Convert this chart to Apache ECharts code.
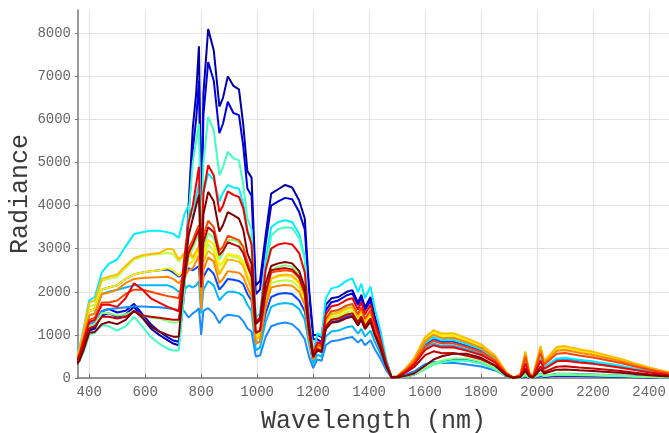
<!DOCTYPE html>
<html>
<head>
<meta charset="utf-8">
<title>Radiance spectra</title>
<script src="https://cdn.jsdelivr.net/npm/echarts@6/dist/echarts.min.js"></script>
<style>
  html, body { margin: 0; padding: 0; background: #fff; }
  #chart { width: 669px; height: 433px; }
</style>
</head>
<body>
<div id="chart"></div>
<script>
// wavelength samples (nm)
var wavelengths = [350,365,380,400,420,445,470,500,530,560,590,620,650,680,700,720,
  740,755,770,782,792,800,808,825,845,865,878,895,915,935,950,965,980,995,1010,1030,1050,1075,1100,1125,1150,1170,1185,1200,
  1215,1230,1245,1265,1290,1320,1340,1360,1372,1385,1405,1420,1440,1460,1480,
  1500,1530,1560,1600,1630,1660,1700,1750,1800,1850,1890,1915,
  1940,1958,1972,1985,2000,2012,2025,2045,2070,2100,2150,2200,2250,2300,2350,2400,2440,2470];

// radiance per spectrum
var navy = [300,420,650,1100,1150,1450,1500,1420,1480,1650,1400,1150,1000,880,800,760,
  2000,4000,5800,6600,7700,3800,6600,8100,7600,6300,6500,7000,6780,6700,5900,4800,4650,2150,2250,3300,4280,4380,4480,4420,4120,3700,2100,1000,
  1000,950,1700,1850,1880,2000,2040,1750,1930,1640,1880,1430,980,400,20,
  10,40,80,220,330,390,430,430,360,220,40,5,
  5,40,10,2,30,50,30,40,50,50,45,40,35,28,20,15,10,8];
var blue = [320,450,700,1150,1200,1550,1600,1520,1560,1720,1480,1250,1080,950,870,840,
  2100,3800,5300,6000,6900,3500,6100,7330,6900,5680,5900,6410,6150,6100,5400,4400,4230,1950,2050,3100,4000,4100,4180,4150,3850,3450,2000,900,
  900,830,1570,1760,1800,1920,1960,1690,1860,1570,1800,1370,940,390,20,
  10,38,80,215,325,380,420,420,350,215,38,4,
  6,48,12,2,35,60,35,48,60,60,55,50,42,35,26,19,13,10];
var royal = [380,600,1000,1550,1600,2050,2100,2150,2300,2400,2450,2480,2500,2520,2450,2350,
  2450,2550,2500,2550,2600,1700,2350,2550,2420,2050,2150,2300,2280,2250,2180,1950,1800,800,850,1500,1880,1950,1970,1950,1800,1550,950,400,
  650,610,1160,1300,1330,1420,1450,1250,1380,1160,1330,1020,700,290,15,
  32,180,365,770,900,835,845,745,630,420,105,8,
  50,375,75,18,260,450,240,325,435,450,405,370,320,270,205,150,110,80];
var dodger = [350,500,800,1250,1300,1550,1600,1620,1640,1660,1660,1650,1640,1620,1600,1580,
  1550,1400,1500,1550,1620,1000,1560,1620,1500,1270,1400,1470,1450,1430,1320,1150,1080,500,520,950,1200,1260,1290,1250,1100,900,500,230,
  430,400,760,855,875,930,950,820,900,760,875,665,455,190,10,
  14,75,150,320,380,350,355,315,265,175,45,3,
  11,83,17,4,58,100,53,72,97,100,90,82,71,60,46,33,24,18];
var skyblue = [370,580,950,1450,1500,1950,2000,2050,2100,2150,2150,2150,2150,2150,2100,2000,
  2050,2150,2100,2150,2250,1500,2050,2250,2150,1800,1900,2000,2000,1970,1900,1700,1550,650,700,1300,1650,1720,1740,1720,1600,1350,800,330,
  540,500,960,1080,1100,1180,1200,1030,1140,960,1100,840,575,240,12,
  29,160,325,685,800,740,750,660,560,375,95,7,
  46,350,71,17,245,420,225,300,405,420,380,345,300,250,195,140,100,75];
var cyan = [420,700,1150,1800,1880,2450,2650,2750,3050,3340,3380,3420,3420,3380,3350,3250,
  3800,4000,3700,4200,4500,3000,4300,4750,4600,4100,4300,4480,4420,4400,4050,3450,3150,1400,1500,2700,3500,3620,3660,3620,3350,2800,1400,600,
  1040,970,1850,2080,2120,2260,2310,1990,2190,1850,2120,1620,1110,460,25,
  34,190,385,815,950,880,890,790,670,445,110,9,
  52,390,80,19,273,470,250,338,455,470,423,385,334,282,216,155,113,85];
var aqua = [300,400,600,1000,1050,1230,1200,1100,1200,1420,1200,950,800,680,640,640,
  2000,3800,5000,5500,5900,3000,5000,6060,5750,4700,4900,5250,5100,5050,4500,3700,3450,1300,1400,2500,3300,3450,3500,3480,3250,2750,1400,550,
  765,715,1360,1530,1560,1670,1700,1460,1615,1360,1560,1190,815,340,17,
  8,36,76,205,310,360,400,400,335,205,36,4,
  7,56,14,3,42,70,42,56,70,70,63,56,49,39,28,21,14,11];
var lightgreen = [330,480,750,1200,1250,1500,1500,1450,1480,1550,1450,1400,1380,1320,1280,1300,
  2200,2800,3000,3200,3350,2000,3000,3360,3250,2750,2900,3200,3200,3150,2950,2600,2350,1000,1050,1900,2500,2580,2620,2580,2400,2050,1100,480,
  700,650,1240,1400,1430,1520,1550,1330,1470,1240,1430,1085,745,310,15,
  9,40,85,230,345,405,450,450,380,230,40,4,
  9,72,18,4,54,90,54,72,90,90,81,72,63,50,36,27,18,14];
var yellowgreen = [380,620,1050,1650,1700,2250,2300,2350,2550,2750,2820,2860,2880,2900,2880,2700,
  2850,2900,2750,2900,3050,1900,2800,3100,2950,2450,2600,2850,2820,2780,2650,2350,2100,950,1000,1750,2200,2250,2270,2250,2100,1800,1000,430,
  700,650,1240,1400,1430,1520,1550,1330,1470,1240,1430,1085,745,310,15,
  39,215,440,925,1080,1000,1010,895,760,505,125,10,
  80,600,120,30,420,720,380,520,700,720,650,590,510,430,330,240,170,130];
var yellow = [370,600,1000,1550,1600,2050,2100,2150,2300,2400,2450,2480,2500,2550,2500,2380,
  2500,2650,2700,2850,3100,1900,2900,3200,3100,2600,2700,2880,2850,2830,2700,2400,2200,950,1000,1800,2300,2350,2380,2350,2200,1850,1050,450,
  730,680,1300,1460,1490,1590,1620,1390,1540,1300,1490,1130,780,320,16,
  38,208,425,900,1050,975,985,870,740,490,123,9,
  77,580,119,28,406,700,371,504,680,700,630,574,497,420,322,231,168,126];
var gold = [400,650,1100,1750,1800,2300,2350,2400,2600,2780,2850,2880,2900,3000,2980,2750,
  2900,2950,2800,2950,3050,1900,2700,2950,2850,2400,2550,2750,2730,2700,2600,2300,2050,900,950,1800,2300,2380,2400,2380,2220,1900,1050,450,
  740,690,1320,1485,1520,1620,1650,1420,1570,1320,1520,1155,790,330,17,
  40,220,450,950,1110,1030,1040,920,780,520,130,10,
  81,615,126,30,430,740,392,533,718,740,666,607,525,444,340,244,178,133];
var orange = [370,580,950,1450,1500,1950,1980,2050,2200,2300,2320,2330,2340,2350,2300,2200,
  2350,2500,2550,2700,2850,1600,2500,2800,2700,2200,2300,2480,2460,2440,2350,2100,1900,800,850,1650,2100,2140,2160,2140,2000,1700,950,420,
  675,630,1200,1350,1380,1470,1500,1290,1425,1200,1380,1050,720,300,15,
  36,198,405,855,1000,925,935,830,700,470,117,9,
  72,540,110,26,377,650,345,468,630,650,585,533,462,390,300,215,156,117];
var orangered = [350,550,900,1350,1400,1750,1750,1800,1950,2050,2050,2000,1950,1900,1880,1850,
  2500,3000,3200,3400,3550,2300,3300,3650,3500,2950,3050,3300,3250,3200,3050,2700,2450,1050,1100,2000,2450,2480,2500,2480,2320,1950,1100,480,
  775,720,1375,1550,1580,1685,1720,1480,1635,1375,1580,1205,825,345,17,
  31,170,350,735,860,800,805,715,605,405,100,8,
  64,480,100,23,336,580,307,418,563,580,522,476,412,348,267,191,139,104];
var red = [330,520,850,1300,1350,1700,1700,1650,1850,2200,2050,1850,1750,1650,1600,1550,
  2800,3600,4000,4500,4900,2600,4300,4940,4700,3850,4000,4330,4250,4200,3950,3400,3100,1300,1400,2500,3000,3100,3130,3100,2900,2450,1300,550,
  830,780,1480,1665,1700,1815,1850,1590,1760,1480,1700,1295,890,370,18,
  27,150,310,650,760,705,712,630,535,355,90,7,
  44,332,68,16,232,400,212,288,388,400,360,328,284,240,184,132,96,72];
var darkred = [320,480,780,1150,1200,1420,1420,1380,1420,1550,1450,1420,1400,1370,1350,1350,
  2300,2900,3100,3300,3450,2100,3150,3500,3380,2850,2950,3150,3100,3050,2900,2600,2350,1050,1100,1950,2500,2530,2550,2520,2350,1980,1100,480,
  675,630,1200,1350,1380,1470,1500,1290,1425,1200,1380,1050,720,300,15,
  22,123,250,530,620,575,580,515,435,290,73,6,
  30,224,46,11,157,270,143,194,262,270,243,221,192,162,124,89,65,49];
var maroon = [280,400,650,1050,1070,1250,1300,1250,1350,1560,1400,1200,1080,1000,960,960,
  2400,3300,3700,4000,4250,2400,3800,4320,4100,3400,3550,3850,3780,3700,3450,2900,2650,1250,1350,2200,2600,2660,2690,2660,2480,2100,1150,500,
  640,600,1135,1280,1305,1390,1420,1220,1350,1135,1305,995,680,285,14,
  11,50,105,285,430,505,560,560,470,285,50,6,
  22,166,34,8,116,200,106,144,194,200,180,164,142,120,92,66,48,36];

var spectra = [navy, blue, royal, dodger, skyblue, cyan, aqua, lightgreen,
  yellowgreen, yellow, gold, orange, orangered, red, darkred, maroon];
var colors = ['#0000a8','#0000e6','#0048ff','#1a8cff','#00b8ff','#00eeff','#40ffc0','#80ff80',
  '#c0ff40','#ffee00','#ffbb00','#ff8800','#ff4400','#f00000','#c00000','#800000'];

var chart = echarts.init(document.getElementById('chart'));
var mono = 'Liberation Mono';

var series = spectra.map(function (vals, i) {
  return {
    type: 'line',
    data: wavelengths.map(function (w, j) { return [w, vals[j]]; }),
    showSymbol: false,
    symbol: 'none',
    clip: true,
    lineStyle: { color: colors[i], width: 2 },
    itemStyle: { color: colors[i] }
  };
});

function plain(v) { return String(v); }

var option = {
  backgroundColor: '#fff',
  animation: false,
  grid: { left: 78, right: 0, top: 10, bottom: 55, containLabel: false, outerBoundsMode: 'none' },
  xAxis: {
    type: 'value',
    min: 360,
    max: 2471,
    minInterval: 200,
    maxInterval: 200,
    splitNumber: 10,
    name: 'Wavelength (nm)',
    nameLocation: 'middle',
    nameGap: 31,
    nameTextStyle: { fontFamily: mono, fontSize: 25, color: '#3a3a3a' },
    axisLine: { show: true, lineStyle: { color: '#777', width: 1.5 } },
    axisTick: { show: true, inside: true, length: 4, lineStyle: { color: '#777' } },
    axisLabel: { fontFamily: mono, fontSize: 14, color: '#666', margin: 7,
      showMinLabel: false, showMaxLabel: false, formatter: plain },
    splitLine: { show: true, showMinLine: false, showMaxLine: false,
      lineStyle: { color: '#e3e3e3', width: 1 } }
  },
  yAxis: {
    type: 'value',
    min: 0,
    max: 8540,
    interval: 1000,
    name: 'Radiance',
    nameLocation: 'middle',
    nameGap: 45,
    nameMoveOverlap: false,
    nameTextStyle: { fontFamily: mono, fontSize: 25, color: '#3a3a3a' },
    axisLine: { show: true, lineStyle: { color: '#777', width: 1.5 } },
    axisTick: { show: true, inside: false, length: 3, lineStyle: { color: '#777' } },
    axisLabel: { fontFamily: mono, fontSize: 14, color: '#666', margin: 7,
      showMaxLabel: false, formatter: plain },
    splitLine: { show: true, showMaxLine: false,
      lineStyle: { color: '#e3e3e3', width: 1 } }
  },
  series: series
};

chart.setOption(option);
</script>
</body>
</html>
